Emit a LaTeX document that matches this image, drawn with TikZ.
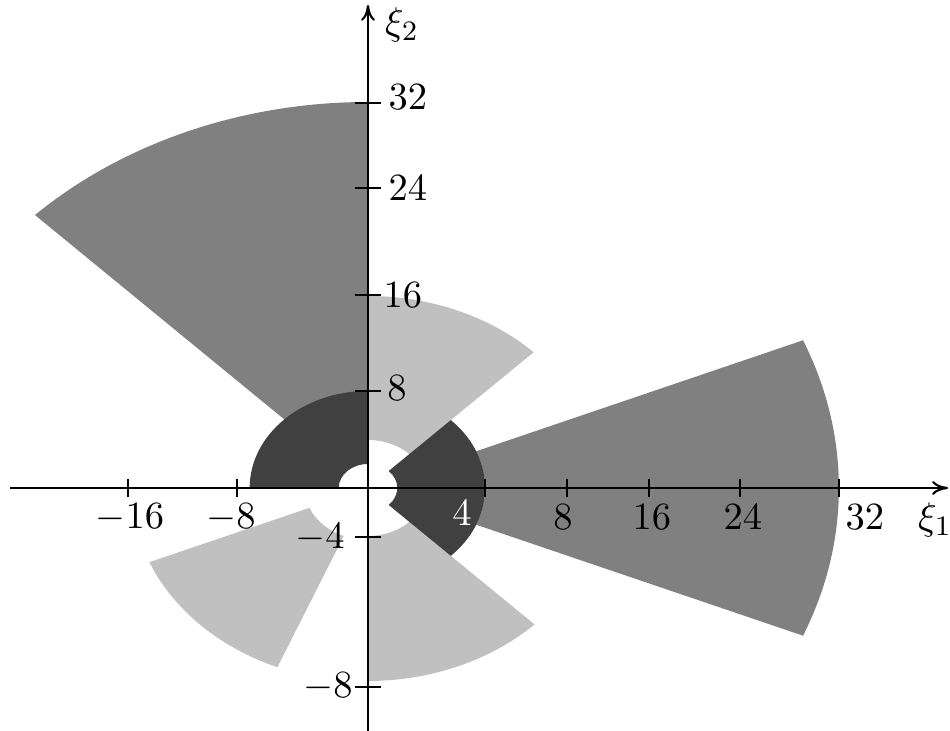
\documentclass[tikz,border=0pt]{standalone}
\usepackage{xcolor}
\definecolor{sectdark}{RGB}{64,64,64}
\definecolor{sectmid}{RGB}{128,128,128}
\definecolor{sectlight}{RGB}{192,192,192}
\usepackage{tikz}
\usetikzlibrary{arrows.meta}

\begin{document}
\begin{tikzpicture}[x=0.01cm,y=0.01cm,
  axisline/.style={line width=0.6pt,black,-{To[length=4.5pt,width=4pt]}},
  tickmark/.style={line width=0.45pt,black},
  lbl/.style={font=\fontsize{11}{13}\selectfont,inner sep=1pt},
]
  \useasboundingbox (-368,-243) rectangle (582,488);

  %% annular sectors, x stretched
  \begin{scope}[xscale=1.22]
    \fill[sectmid] (-22.5:96) -- (-22.5:386)
      arc[start angle=-22.5,end angle=22.5,radius=386] -- (22.5:96)
      arc[start angle=22.5,end angle=-22.5,radius=96] -- cycle;
    \fill[sectmid] (90:96) -- (90:386)
      arc[start angle=90,end angle=135,radius=386] -- (135:96)
      arc[start angle=135,end angle=90,radius=96] -- cycle;

    \fill[sectlight] (45:48) -- (45:192)
      arc[start angle=45,end angle=90,radius=192] -- (90:48)
      arc[start angle=90,end angle=45,radius=48] -- cycle;
    \fill[sectlight] (-90:48) -- (-90:193)
      arc[start angle=-90,end angle=-45,radius=193] -- (-45:48)
      arc[start angle=-45,end angle=-90,radius=48] -- cycle;
    \fill[sectlight] (202.5:52) -- (202.5:194)
      arc[start angle=202.5,end angle=247.5,radius=194] -- (247.5:52)
      arc[start angle=247.5,end angle=202.5,radius=52] -- cycle;

    \fill[sectdark] (90:24) -- (90:97)
      arc[start angle=90,end angle=180,radius=97] -- (180:24)
      arc[start angle=180,end angle=90,radius=24] -- cycle;
    \fill[sectdark] (-45:24) -- (-45:96)
      arc[start angle=-45,end angle=45,radius=96] -- (45:24)
      arc[start angle=45,end angle=-45,radius=24] -- cycle;
  \end{scope}

  %% axes
  \coordinate (xstart) at (-358,0);
  \coordinate (xend) at (580,0);
  \coordinate (ystart) at (0,-243);
  \coordinate (yend) at (0,483);
  \draw[axisline] (xstart) -- (xend);
  \draw[axisline] (ystart) -- (yend);

  \foreach \xoff in {-240,-131,117,199,281,372,471}{%
    \draw[tickmark] (\xoff,9) -- (\xoff,-9);
  }
  \foreach \yoff in {385,300,193,97,-49,-199}{%
    \draw[tickmark] (-13,\yoff) -- (13,\yoff);
  }

  %% tick labels
  \node[lbl](xm16) at (-238,-30) {$-16$};
  \node[lbl](xm8) at (-137,-30) {$-8$};
  \node[lbl,white](x4) at (94,-25) {$4$};
  \node[lbl](x8) at (195,-29) {$8$};
  \node[lbl](x16) at (284,-29) {$16$};
  \node[lbl](x24) at (375,-29) {$24$};
  \node[lbl](x32) at (497,-29) {$32$};
  \node[lbl](xi1) at (567,-32) {$\xi_1$};

  \node[lbl](y32) at (40,391) {$32$};
  \node[lbl](y24) at (40,300) {$24$};
  \node[lbl](y16) at (35,193) {$16$};
  \node[lbl](y8) at (29,100) {$8$};
  \node[lbl](ym4) at (-48,-50) {$-4$};
  \node[lbl](ym8) at (-40,-199) {$-8$};
  \node[lbl](xi2) at (34,463) {$\xi_2$};
\end{tikzpicture}
\end{document}
